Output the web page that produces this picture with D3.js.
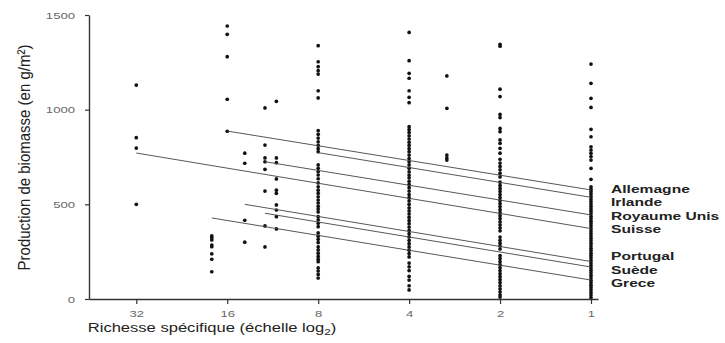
<!DOCTYPE html>
<html><head><meta charset="utf-8">
<script src="https://cdn.jsdelivr.net/npm/d3@7"></script>
<style>body{margin:0;background:#fff}svg{display:block}</style>
</head><body>
<svg id="chart" width="725" height="343"></svg>
<script>
// ---- data ----
const xTicks = [32, 16, 8, 4, 2, 1];
const yTicks = [0, 500, 1000, 1500];
const richness = [32, 18, 16, 14, 12, 11, 8, 4, 3, 2, 1];
const biomass32 = [1130, 852, 797, 500];
const biomass18 = [333, 324, 312, 285, 276, 238, 210, 144];
const biomass16 = [1442, 1398, 1280, 1055, 886];
const biomass14 = [770, 717, 416, 300];
const biomass12 = [1009, 813, 745, 725, 685, 570, 386, 275];
const biomass11 = [1044, 745, 720, 634, 575, 558, 497, 470, 435, 370];
const biomass8 = [1338, 1253, 1227, 1206, 1188, 1100, 1062, 889, 870, 850, 830, 812, 795, 778,
  708, 690, 672, 655, 635, 613, 593, 575, 558, 540, 523, 507, 490, 475, 460, 435, 418, 400, 382,
  349, 332, 315, 298, 276, 259, 242, 225, 210, 197, 164, 148, 130, 111];
const biomass4 = [1408, 1259, 1192, 1166, 1100, 1065, 1037, 910, 895, 880, 862, 845, 828, 812, 795,
  778, 760, 742, 725, 708, 690, 672, 655, 640, 622, 605, 588, 570, 552, 535, 518, 500, 482, 466,
  450, 432, 415, 398, 380, 362, 345, 328, 310, 292, 275, 258, 240, 222, 190, 170, 150, 120, 100, 70, 48];
const biomass3 = [1178, 1007, 760, 745, 734];
const biomass2 = [1345, 1335, 1108, 1069, 975, 958, 901, 884, 840, 822, 796, 770, 738, 718, 700,
  682, 664, 645, 617, 600, 584, 568, 552, 536, 520, 504, 488, 472, 456, 440, 424, 408, 392, 376,
  360, 327, 310, 295, 280, 264, 229, 214, 198, 182, 166, 150, 134, 118, 102, 86, 70, 54, 38, 22, 10];
const biomass1 = [1241, 1139, 1060, 1012, 896, 857, 804, 787, 770, 752, 734, 690, 632, 593, 580,
  567, 554, 541, 528, 515, 502, 489, 476, 463, 450, 437, 424, 411, 398, 385, 372, 359, 346, 333,
  320, 307, 294, 281, 268, 255, 242, 229, 216, 203, 190, 177, 164, 151, 138, 125, 112, 99, 86,
  73, 60, 47, 34, 21, 8];
const biomassByRichness = [biomass32, biomass18, biomass16, biomass14, biomass12, biomass11,
  biomass8, biomass4, biomass3, biomass2, biomass1];

const countries = ["Allemagne", "Irlande", "Royaume Unis", "Suisse", "Portugal", "Suède", "Grece"];
const lineStartRichness = [16, 8, 12, 32, 14, 12, 18];
const lineStartValue = [887, 773, 725, 771, 500, 453, 428];
const lineEndRichness = [1, 1, 1, 1, 1, 1, 1];
const lineEndValue = [576, 537, 444, 372, 198, 169, 100];

// ---- drawing ----
const svg = d3.select("#chart");
const SX = 1.38; // horizontal stretch of the original typography
const FONT = "Liberation Sans, Arial, sans-serif";
const x = d3.scaleLog().base(2).domain([Math.pow(2, 5.52), Math.pow(2, -0.077)]).range([89, 598]);
const y = d3.scaleLinear().domain([0, 1500]).range([299, 15]);

// points
const pts = [];
richness.forEach((r, i) => biomassByRichness[i].forEach(v => pts.push({r, v})));
svg.append("g").selectAll("circle").data(pts).join("circle")
  .attr("cx", d => x(d.r)).attr("cy", d => y(d.v)).attr("r", 1.85).attr("fill", "#111");

// regression lines
svg.append("g").selectAll("line").data(countries).join("line")
  .attr("x1", (d, i) => x(lineStartRichness[i])).attr("y1", (d, i) => y(lineStartValue[i]))
  .attr("x2", (d, i) => x(lineEndRichness[i])).attr("y2", (d, i) => y(lineEndValue[i]))
  .attr("stroke", "#444").attr("stroke-width", 0.9);

// axes
const yAxis = svg.append("g").attr("transform", "translate(89,0)")
  .call(d3.axisLeft(y).tickValues(yTicks).tickFormat(d3.format("d")).tickSize(4).tickSizeOuter(0).tickPadding(10));
const xAxis = svg.append("g").attr("transform", "translate(0,299)")
  .call(d3.axisBottom(x).tickValues(xTicks).tickFormat(d3.format("d")).tickSize(5).tickSizeOuter(0).tickPadding(6));
[yAxis, xAxis].forEach(g => {
  g.select(".domain").attr("stroke", "#333").attr("stroke-width", 1.4);
  g.selectAll(".tick line").attr("stroke", "#333").attr("stroke-width", 1.2);
  g.selectAll(".tick text").attr("font-family", FONT)
    .attr("font-size", 9.5).attr("fill", "#666");
});
yAxis.selectAll(".tick text").attr("x", -14 / SX).attr("transform", `scale(${SX},1)`);
xAxis.selectAll(".tick text").attr("transform", `scale(${SX},1)`);

// axis titles
svg.append("text").attr("transform", `translate(30,157.5) rotate(-90) scale(1,1.15)`)
  .attr("text-anchor", "middle").attr("font-family", FONT)
  .attr("font-size", 15).attr("fill", "#222").text("Production de biomasse (en g/m²)");
const xt = svg.append("text").attr("transform", `translate(212,332) scale(${SX},1)`)
  .attr("text-anchor", "middle").attr("font-family", FONT)
  .attr("font-size", 12).attr("fill", "#222");
xt.append("tspan").text("Richesse spécifique (échelle log");
xt.append("tspan").attr("font-size", 8.5).attr("dy", 3).text("2");
xt.append("tspan").attr("dy", -3).text(")");

// legend labels
svg.append("g").selectAll("text").data(countries).join("text")
  .attr("transform", (d, i) => `translate(611,${(i < 4 ? 189 + i * 13.4 : 256 + (i - 4) * 13.6) + 4}) scale(${SX},1)`)
  .attr("font-family", FONT).attr("font-weight", "bold")
  .attr("font-size", 11.3).attr("fill", "#222").text(d => d);
</script>
</body></html>
